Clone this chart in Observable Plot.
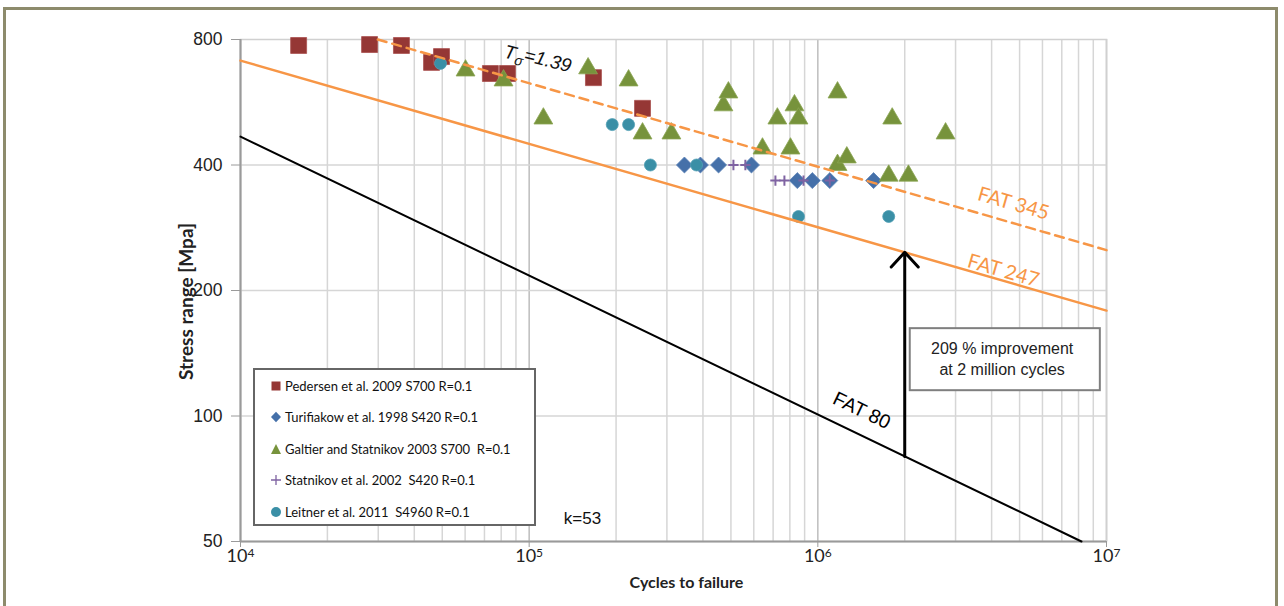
<!DOCTYPE html>
<html>
<head>
<meta charset="utf-8">
<script src="https://cdn.jsdelivr.net/npm/d3@7"></script>
<script src="https://cdn.jsdelivr.net/npm/@observablehq/plot@0.6"></script>
<style>
  html, body { margin: 0; padding: 0; background: #fff; }
  #wrap { position: relative; width: 1284px; height: 606px; overflow: hidden; font-family: "Liberation Sans", Arial, sans-serif; }
  #border { position: absolute; left: 3px; top: 7px; width: 1275px; height: 620px; border: 3px solid #8d8b6c; box-sizing: border-box; }
  #chart { position: absolute; left: 0; top: 0; }
  #legend { position: absolute; left: 253px; top: 368px; width: 283px; height: 158px; box-sizing: border-box;
            border: 2px solid #666; background: #fff; font-family: Lato, "Open Sans", sans-serif; font-size: 13px; color: #111; }
  #legend .row { position: absolute; left: 14px; height: 16px; display: flex; align-items: center; white-space: pre; }
  #legend svg { width: 14px; height: 14px; margin-right: 2px; }
</style>
</head>
<body>
<div id="wrap">
  <div id="border"></div>
  <div id="chart"></div>
  <div id="legend"></div>
</div>
<script>
// ---- Data (cycles N, stress range S in MPa) ----
const pedersen = [[1.59e4,774],[2.80e4,778],[3.61e4,774],[4.59e4,705],[4.97e4,728],[7.34e4,663],[8.41e4,663],[1.67e5,648],[2.47e5,547]];
const turifiakow = [[3.45e5,400],[3.92e5,400],[4.53e5,400],[5.89e5,400],[8.49e5,367],[9.57e5,367],[1.10e6,367],[1.56e6,367]];
const galtier = [[6.02e4,674],[8.15e4,638],[1.12e5,517],[1.60e5,682],[2.21e5,638],[2.47e5,476],[3.11e5,476],[4.71e5,556],[4.90e5,597],[6.43e5,438],[7.24e5,517],[8.04e5,438],[8.30e5,556],[8.57e5,517],[1.17e6,597],[1.17e6,400],[1.26e6,417],[1.76e6,377],[1.81e6,517],[2.06e6,377],[2.77e6,476]];
const statnikov = [[5.10e5,400],[5.61e5,400],[7.13e5,367],[7.66e5,367],[8.92e5,367],[1.10e6,367]];
const leitner = [[4.93e4,701],[1.94e5,500],[2.21e5,500],[2.63e5,400],[3.80e5,400],[8.57e5,301],[1.76e6,301]];

// S-N design lines (end points)
const fat80 = [[1e4,468],[8.19e6,50]];
const fat247 = [[1e4,712],[1e7,179]];
const fat345 = [[2.99e4,800],[1e7,250]];

// improvement arrow at 2 million cycles
const improvement = [{n: 2e6, from: 80, to: 247}];

// annotations
const lineLabels = [
  {n: 1.42e6, s: 103, text: "FAT 80", color: "#000", rotate: 25.7, font: "Liberation Sans", size: 19.5},
  {n: 4.39e6, s: 223, text: "FAT 247", color: "#f79646", rotate: 16, font: "Lato", size: 20},
  {n: 4.76e6, s: 323, text: "FAT 345", color: "#f79646", rotate: 16, font: "Lato", size: 20}
];
const tsigmaLabel = [{n: 1.07e5, s: 716, text: "Tσ=1.39"}];
const kLabel = [{n: 1.53e5, s: 56.8, text: "k=53"}];
const noteBox = [{x1: 2.09e6, x2: 9.52e6, y1: 115, y2: 162}];
const noteLines = [{n: 4.35e6, s: 145, text: "209 % improvement"}, {n: 4.35e6, s: 129, text: "at 2 million cycles"}];

// axes
const xTicks = [1e4, 1e5, 1e6, 1e7];
const yTicks = [50, 100, 200, 400, 800];
const yGrid = [100, 200, 400];
const xMinor = [];
for (const dec of [1e4, 1e5, 1e6]) for (const m of [2,3,4,5,6,7,8,9]) xMinor.push(dec * m);

const legendItems = [
  {label: "Pedersen et al. 2009 S700 R=0.1", sym: "square", color: "#953735"},
  {label: "Turifiakow et al. 1998 S420 R=0.1", sym: "diamond", color: "#4570a9"},
  {label: "Galtier and Statnikov 2003 S700  R=0.1", sym: "triangle", color: "#77933c"},
  {label: "Statnikov et al. 2002  S420 R=0.1", sym: "plus", color: "#7f63a2"},
  {label: "Leitner et al. 2011  S4960 R=0.1", sym: "circle", color: "#3a8fa6"}
];

const X = d => d[0], Y = d => d[1];

const chart = Plot.plot({
  width: 1284, height: 606,
  marginLeft: 240, marginRight: 178, marginTop: 39, marginBottom: 65,
  style: {background: "transparent", color: "#222", overflow: "visible"},
  x: {type: "log", domain: [1e4, 1e7]},
  y: {type: "log", domain: [50, 800]},
  marks: [
    Plot.gridX(xMinor, {stroke: "#d6d6d6", strokeOpacity: 1, strokeWidth: 1.5}),
    Plot.gridX(xTicks, {stroke: "#bdbdbd", strokeOpacity: 1, strokeWidth: 1.5}),
    Plot.gridY(yGrid, {stroke: "#d6d6d6", strokeOpacity: 1, strokeWidth: 1.5}),
    Plot.frame({stroke: "#d0d0d0", strokeWidth: 1.5}),
    Plot.ruleX([1e4], {stroke: "#9a9a9a", strokeWidth: 2}),
    Plot.ruleY([50], {stroke: "#9a9a9a", strokeWidth: 2}),
    Plot.axisY(yTicks, {tickSize: 9, tickPadding: 9, fontSize: 17.5, fontFamily: "Liberation Sans", stroke: "#9a9a9a", fill: "#222", tickFormat: d => String(d), label: null}),
    Plot.axisX(xTicks, {tickSize: 6, tickPadding: 2, fontSize: 18, fontFamily: "Lato", stroke: "#9a9a9a", fill: "#222", tickFormat: d => "10|" + Math.round(Math.log10(d)), label: null}),
    Plot.text(["Stress range [Mpa]"], {frameAnchor: "left", dx: -54, dy: 11, rotate: -90, textAnchor: "middle", fontSize: 19, fontWeight: "bold", fontFamily: "Lato", fill: "#222"}),
    Plot.text(["Cycles to failure"], {frameAnchor: "bottom", dx: 13, dy: 46, textAnchor: "middle", fontSize: 16, fontWeight: "bold", fontFamily: "Lato", fill: "#222"}),
    // markers
    Plot.dot(pedersen, {x: X, y: Y, symbol: "square", r: 9, fill: "#953735", stroke: "#a9514f", strokeWidth: 0.8}),
    Plot.dot(turifiakow, {x: X, y: Y, symbol: "diamond2", r: 7.2, fill: "#4570a9", stroke: "#5a82b6", strokeWidth: 0.8}),
    Plot.dot(galtier, {x: X, y: Y, symbol: "triangle", r: 7, fill: "#77933c", stroke: "#8aa552", strokeWidth: 0.8}),
    Plot.dot(statnikov, {x: X, y: Y, symbol: "plus", r: 3.4, stroke: "#7f63a2", strokeWidth: 2}),
    Plot.dot(leitner, {x: X, y: Y, symbol: "circle", r: 6, fill: "#3a8fa6", stroke: "#52a0b5", strokeWidth: 0.8}),
    // design lines
    Plot.line(fat80, {x: X, y: Y, stroke: "#000", strokeWidth: 2}),
    Plot.line(fat247, {x: X, y: Y, stroke: "#f79646", strokeWidth: 2.5}),
    Plot.line(fat345, {x: X, y: Y, stroke: "#f79646", strokeWidth: 2.5, strokeDasharray: "9,6"}),
    Plot.arrow(improvement, {x1: "n", x2: "n", y1: "from", y2: "to", stroke: "#000", strokeWidth: 3, headLength: 10, headAngle: 85}),
    // annotations
    Plot.text(lineLabels.slice(0, 1), {x: "n", y: "s", text: "text", fill: "color", rotate: "rotate", fontSize: 19.5, fontFamily: "Liberation Sans"}),
    Plot.text(lineLabels.slice(1), {x: "n", y: "s", text: "text", fill: "color", rotate: "rotate", fontSize: 20, fontFamily: "Lato"}),
    Plot.text(tsigmaLabel, {x: "n", y: "s", text: "text", rotate: 14, fontSize: 19, fontStyle: "italic", fontFamily: "Liberation Sans", fill: "#111"}),
    Plot.text(kLabel, {x: "n", y: "s", text: "text", fontSize: 17, fontFamily: "Liberation Sans", fill: "#111"}),
    Plot.rect(noteBox, {x1: "x1", x2: "x2", y1: "y1", y2: "y2", fill: "#fff", stroke: "#7f7f7f", strokeWidth: 2}),
    Plot.text(noteLines, {x: "n", y: "s", text: "text", fontSize: 16, fontFamily: "Liberation Sans", fill: "#222"})
  ]
});

// superscripts for the x tick labels
d3.select(chart).selectAll('g[aria-label="x-axis tick label"] text').each(function() {
  const t = this.textContent;
  if (!t.includes("|")) return;
  const [base, exp] = t.split("|");
  const sel = d3.select(this);
  sel.text(null);
  sel.append("tspan").text(base);
  sel.append("tspan").attr("dy", "-0.45em").attr("font-size", "12px").text(exp);
});
// subscript sigma
d3.select(chart).selectAll("text").each(function() {
  if (this.textContent !== "Tσ=1.39") return;
  const sel = d3.select(this);
  sel.text(null);
  sel.append("tspan").text("T");
  sel.append("tspan").attr("dy", "0.3em").attr("font-size", "14px").text("σ");
  sel.append("tspan").attr("dy", "-0.3em").text("=1.39");
});

document.getElementById("chart").appendChild(chart);

// legend
const leg = document.getElementById("legend");
const symbolSvg = (sym, c) => {
  switch (sym) {
    case "square": return `<svg viewBox="0 0 14 14"><rect x="2.5" y="2.5" width="9" height="9" fill="${c}"/></svg>`;
    case "diamond": return `<svg viewBox="0 0 14 14"><path d="M7 1.8L12 7L7 12.2L2 7Z" fill="${c}"/></svg>`;
    case "triangle": return `<svg viewBox="0 0 14 14"><path d="M7 2L12 12H2Z" fill="${c}"/></svg>`;
    case "plus": return `<svg viewBox="0 0 14 14"><path d="M7 2V12M2 7H12" stroke="${c}" stroke-width="1.3"/></svg>`;
    default: return `<svg viewBox="0 0 14 14"><circle cx="7" cy="7" r="5" fill="${c}"/></svg>`;
  }
};
const rowTops = [8, 39, 71, 102, 134];
legendItems.forEach((it, i) => {
  const row = document.createElement("div");
  row.className = "row";
  row.style.top = rowTops[i] + "px";
  row.innerHTML = symbolSvg(it.sym, it.color) + `<span>${it.label}</span>`;
  leg.appendChild(row);
});
</script>
</body>
</html>
